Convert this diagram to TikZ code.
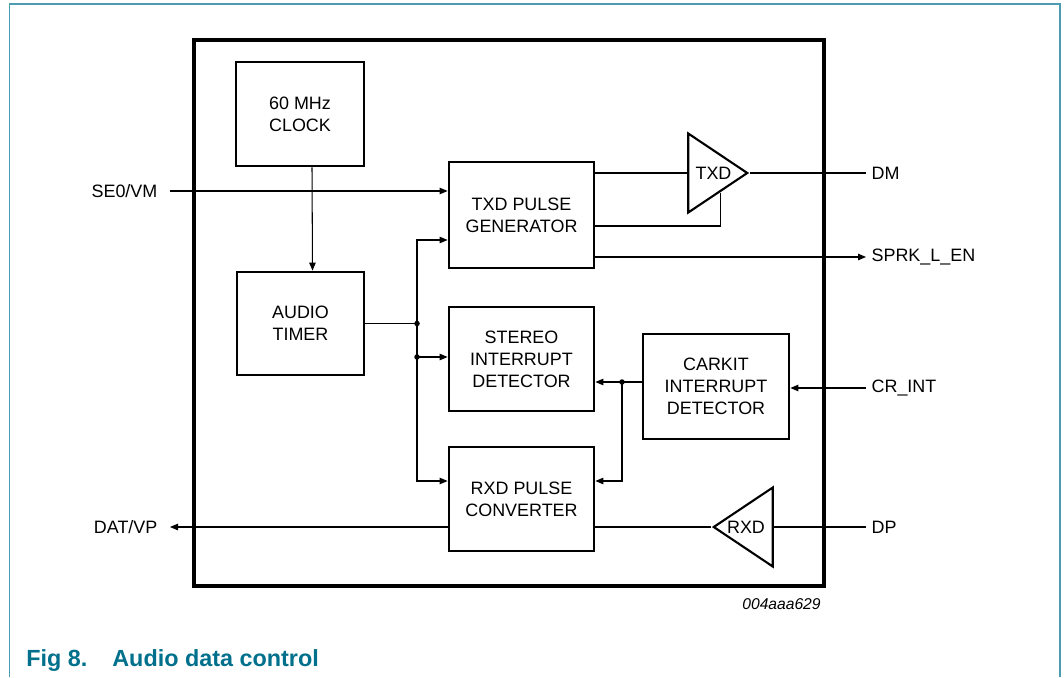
\documentclass[tikz,border=0pt]{standalone}
\usepackage{fontspec}
\setmainfont{Liberation Sans}
\usetikzlibrary{positioning,arrows.meta,shapes.geometric,calc}
\definecolor{nxpteal}{RGB}{0,112,140}
\tikzset{
  block/.style  ={rectangle,draw=black,line width=1.6pt,align=center,inner sep=0pt,
                  minimum width=29mm,minimum height=20.8mm,font=\fontsize{10.2}{12.6}\selectfont},
  buffer/.style ={isosceles triangle,isosceles triangle stretches,draw=black,line width=1.2pt,
                  inner sep=0pt,minimum width=15.8mm,minimum height=11.8mm},
  wire/.style   ={line width=0.6pt,draw=black},
  flow/.style   ={wire,-{Triangle[length=1.6mm,width=1.3mm]}},
  port/.style   ={font=\fontsize{10.2}{12.6}\selectfont,inner sep=3pt},
  portl/.style  ={port,inner xsep=7pt},
  jdot/.style   ={circle,fill=black,inner sep=0pt,minimum size=1.1mm},
}
\begin{document}
\begin{tikzpicture}
  \useasboundingbox (0,0) rectangle (21.28,-13.54);
  % page frame, open at the bottom
  \draw[nxpteal!70,line width=0.8pt] (0.19,-13.54) -- (0.19,-0.08) -- (21.2,-0.08) -- (21.2,-13.54);
  % chip outline
  \node[draw=black,line width=1.8pt,minimum width=12.6cm,minimum height=10.92cm] (chip) at (10.18,-6.26) {};
  % function blocks
  \node[block,minimum width=25.6mm] (clock)  at (6.00,-2.28)  {60 MHz\\CLOCK};
  \node[block,minimum height=21.2mm] (txdgen) at (10.43,-4.30) {TXD PULSE\\GENERATOR};
  \node[block,minimum width=25.4mm,minimum height=20.6mm] (timer) at (6.01,-6.47) {AUDIO\\TIMER};
  \node[block] (stereo) at (10.43,-7.18) {STEREO\\INTERRUPT\\DETECTOR};
  \node[block,minimum width=29.2mm,minimum height=21mm] (carkit) at (14.32,-7.73) {CARKIT\\INTERRUPT\\DETECTOR};
  \node[block] (rxdgen) at (10.43,-9.98) {RXD PULSE\\CONVERTER};
  % line buffers
  \node[buffer,anchor=apex] (txdbuf) at (15.0,-3.46) {};
  \node[port,inner sep=0pt] (txdlbl) at (14.27,-3.46) {TXD};
  \node[buffer,shape border rotate=180,anchor=apex] (rxdbuf) at (14.22,-10.54) {};
  \node[port,inner sep=0pt] (rxdlbl) at (14.92,-10.54) {RXD};
  % pins
  \node[portl,anchor=east] (se0)   at (3.40,-3.82)  {SE0/VM};
  \node[portl,anchor=east] (datvp) at (3.40,-10.54) {DAT/VP};
  \node[port,anchor=west]  (dm)    at (17.32,-3.46) {DM};
  \node[port,anchor=west]  (sprk)  at (17.32,-5.14) {SPRK\_L\_EN};
  \node[port,anchor=west]  (crint) at (17.32,-7.76) {CR\_INT};
  \node[port,anchor=west]  (dp)    at (17.32,-10.54) {DP};
  % transmit side
  \draw[flow] (se0.east) -- (se0.east -| txdgen.west);
  \draw[wire] (txdbuf.west -| txdgen.east) -- (txdbuf.west);
  \draw[wire] (txdbuf.apex) -- (dm.west);
  \coordinate (txden) at ($(txdbuf.apex)!0.475!(txdbuf.right corner)$);
  \draw[wire] ([yshift=-2.2mm]txdgen.east) -| (txden);
  \draw[flow] (sprk.west -| txdgen.east) -- (sprk.west);
  % clock and timer bus
  \draw[flow] ([xshift=2.4mm]clock.south) -- ([xshift=2.4mm]timer.north);
  \coordinate (bus) at (8.34,0);
  \draw[flow] (timer.east) -- (timer.east -| bus) |- ([yshift=-5mm]txdgen.west);
  \draw[flow] (timer.east -| bus) |- ([yshift=3.6mm]rxdgen.west);
  \draw[flow] ([yshift=0.4mm]stereo.west -| bus) -- ([yshift=0.4mm]stereo.west);
  \node[jdot] (j1) at (timer.east -| bus) {};
  \node[jdot] (j2) at ([yshift=0.4mm]stereo.west -| bus) {};
  % carkit interrupt
  \draw[flow] (crint.west) -- (crint.west -| carkit.east);
  \coordinate (ck) at (12.44,0);
  \draw[flow] ([yshift=0.9mm]carkit.west) -- ([yshift=0.9mm]carkit.west -| stereo.east);
  \draw[flow] ([yshift=0.9mm]carkit.west -| ck) |- ([yshift=3.6mm]rxdgen.east);
  \node[jdot] (j3) at ([yshift=0.9mm]carkit.west -| ck) {};
  % receive side
  \draw[wire] (dp.west) -- (rxdbuf.east);
  \draw[wire] (rxdbuf.apex) -- (rxdbuf.apex -| rxdgen.east);
  \draw[flow] (rxdbuf.apex -| rxdgen.west) -- (datvp.east);
  % figure id and caption
  \node[anchor=east,inner sep=0pt,font=\fontsize{8.9}{10}\selectfont\itshape] (figid) at (16.42,-12.08) {004aaa629};
  \node[anchor=base west,inner sep=0pt,text=nxpteal,font=\fontsize{13.3}{15}\selectfont\bfseries] (fignum) at (0.52,-13.32) {Fig 8.};
  \node[anchor=base west,inner sep=0pt,text=nxpteal,font=\fontsize{13.3}{15}\selectfont\bfseries] (figtitle) at (2.24,-13.32) {Audio data control};
\end{tikzpicture}
\end{document}
